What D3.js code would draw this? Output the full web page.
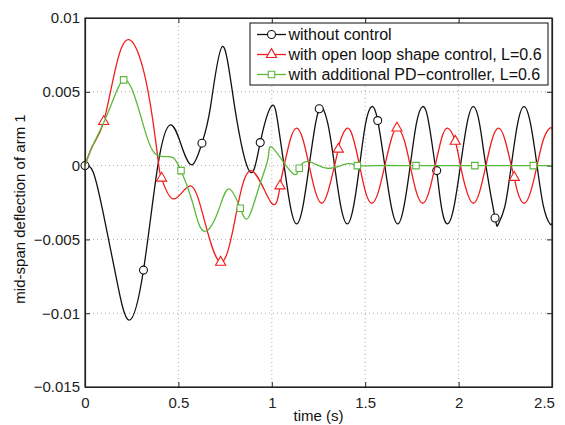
<!DOCTYPE html>
<html>
<head>
<meta charset="utf-8">
<script src="https://cdn.jsdelivr.net/npm/d3@7"></script>
<style>
  body { margin: 0; background: #fff; }
  svg { font-family: "Liberation Sans", Arial, Helvetica, sans-serif; }
</style>
</head>
<body>
<svg id="chart" width="565" height="425"></svg>
<script>
// values, deflection in metres
const tBlack = [0, 0.043, 0.096, 0.168, 0.236, 0.313, 0.39, 0.457, 0.515, 0.573, 0.626, 0.672, 0.735, 0.801, 0.882, 0.938, 0.999,
  1.033, 1.066, 1.1, 1.133, 1.166, 1.2, 1.234, 1.254, 1.267, 1.3, 1.336, 1.37, 1.404, 1.437, 1.47, 1.502, 1.535, 1.567,
  1.605, 1.64, 1.674, 1.707, 1.741, 1.774, 1.808, 1.841, 1.875, 1.883, 1.908, 1.941, 1.975, 2.01, 2.045, 2.079, 2.112,
  2.146, 2.195, 2.213, 2.247, 2.282, 2.316, 2.35, 2.385, 2.42, 2.455, 2.489, 2.5]
const vBlack = [0, -0.00041, -0.00312, -0.00764, -0.01047, -0.00708, 0, 0.00276, 0.0014, 0.00005, 0.00152, 0.004, 0.00807, 0.004, -0.00041, 0.00156, 0.00405,
  0.00285, 0, -0.0028, -0.00395, -0.0028, 0, 0.00285, 0.00385, 0.004, 0.00285, 0, -0.0028, -0.00395, -0.0028, 0, 0.00285, 0.004, 0.00305,
  0, -0.0028, -0.00395, -0.0028, 0, 0.00285, 0.004, 0.00285, 0, -0.00034, -0.0028, -0.00395, -0.0028, 0, 0.00285, 0.004, 0.00285,
  0, -0.00355, -0.00395, -0.0028, 0, 0.00285, 0.004, 0.00285, 0, -0.0028, -0.00395, -0.0039]

const tRed = [0, 0.043, 0.1, 0.168, 0.236, 0.31, 0.364, 0.395, 0.41, 0.475, 0.566, 0.641, 0.726, 0.801, 0.887, 0.999,
  1.044, 1.066, 1.1, 1.133, 1.166, 1.2, 1.234, 1.267, 1.3, 1.336, 1.356, 1.37, 1.404, 1.437, 1.47, 1.502, 1.535, 1.57,
  1.605, 1.64, 1.67, 1.707, 1.741, 1.774, 1.808, 1.841, 1.875, 1.908, 1.941, 1.982, 2.01, 2.045, 2.079, 2.112,
  2.146, 2.18, 2.213, 2.247, 2.282, 2.298, 2.316, 2.35, 2.385, 2.42, 2.455, 2.489, 2.5]
const vRed = [0, 0.0014, 0.00298, 0.00683, 0.00853, 0.0066, 0.00298, 0, -0.00085, -0.00226, -0.00138, -0.0038, -0.00655, -0.0038, -0.00034, -0.00255,
  -0.00138, 0, 0.0018, 0.00254, 0.0018, 0, -0.0018, -0.00255, -0.0018, 0, 0.00111, 0.0018, 0.00254, 0.0018, 0, -0.0018, -0.00255, -0.0018,
  0, 0.0018, 0.00254, 0.0018, 0, -0.0018, -0.00255, -0.0018, 0, 0.0018, 0.00254, 0.00165, 0, -0.0018, -0.00255, -0.0018,
  0, 0.0018, 0.00254, 0.0018, 0, -0.0008, -0.0018, -0.00255, -0.0018, 0, 0.0018, 0.00254, 0.0025]

const tGreen = [0, 0.043, 0.1, 0.168, 0.207, 0.257, 0.328, 0.373, 0.423, 0.471, 0.514, 0.569, 0.605, 0.649, 0.712, 0.769, 0.831, 0.876,
  0.935, 0.98, 1.005, 1.107, 1.147, 1.2, 1.297, 1.4, 1.458, 1.55, 1.772, 2.087, 2.4, 2.5]
const vGreen = [0, 0.0014, 0.0029, 0.005, 0.00581, 0.005, 0.00208, 0.00084, 0.00061, 0.00054, -0.00034, -0.00221, -0.0038, -0.00443, -0.00312, -0.00158, -0.00289, -0.0035,
  -0.00131, 0.0005, 0.0012, -0.00047, -0.00018, 0.00027, -0.00018, 0.00012, 0, 0, 0, 0, 0, 0]

// sample times where markers are drawn
const circleT = [0, 0.313, 0.626, 0.938, 1.254, 1.567, 1.883, 2.195]
const triangleT = [0.1, 0.41, 0.726, 1.044, 1.356, 1.67, 1.982, 2.298]
const squareT = [0.207, 0.514, 0.831, 1.147, 1.458, 1.772, 2.087, 2.4]

const xTicks = [0, 0.5, 1, 1.5, 2, 2.5]
const yTicks = [-0.015, -0.01, -0.005, 0, 0.005, 0.01]
const legendLabels = ['without control', 'with open loop shape control, L=0.6', 'with additional PD\u2212controller, L=0.6']

const svg = d3.select('#chart')
const W = 565, H = 425
const m = { top: 18, right: 13, bottom: 38, left: 85 }
const iw = W - m.left - m.right, ih = H - m.top - m.bottom

const x = d3.scaleLinear().domain([0, 2.5]).range([0, iw])
const y = d3.scaleLinear().domain([-0.015, 0.01]).range([ih, 0])

const g = svg.append('g').attr('transform', 'translate(' + m.left + ',' + m.top + ')')

// grid
g.append('g').selectAll('line').data(xTicks.slice(1, -1)).enter().append('line')
  .attr('x1', d => x(d)).attr('x2', d => x(d)).attr('y1', 0).attr('y2', ih)
  .attr('stroke', '#999').attr('stroke-width', 0.8).attr('stroke-dasharray', '1,3')
g.append('g').selectAll('line').data(yTicks.slice(1, -1)).enter().append('line')
  .attr('y1', d => y(d)).attr('y2', d => y(d)).attr('x1', 0).attr('x2', iw)
  .attr('stroke', '#999').attr('stroke-width', 0.8).attr('stroke-dasharray', '1,3')

const fmt = d => d === 0 ? '0' : d3.format('')(d).replace('-', '\u2212')

const styleAxis = sel => {
  sel.selectAll('path').attr('stroke', '#222').attr('stroke-width', 1.2)
  sel.selectAll('line').attr('stroke', '#222')
  sel.selectAll('text').style('font-size', '15px').attr('fill', '#222')
}

const xAxis = g.append('g').attr('transform', 'translate(0,' + ih + ')')
  .call(d3.axisBottom(x).tickValues(xTicks).tickFormat(fmt).tickSizeInner(-5).tickSizeOuter(0).tickPadding(10))
  .call(styleAxis)
xAxis.selectAll('text').filter(d => d === 2.5).attr('dx', -8)
g.append('g').call(d3.axisTop(x).tickValues(xTicks).tickFormat('').tickSizeInner(-5).tickSizeOuter(0)).call(styleAxis)
g.append('g')
  .call(d3.axisLeft(y).tickValues(yTicks).tickFormat(fmt).tickSizeInner(-5).tickSizeOuter(0).tickPadding(5))
  .call(styleAxis)
g.append('g').attr('transform', 'translate(' + iw + ',0)')
  .call(d3.axisRight(y).tickValues(yTicks).tickFormat('').tickSizeInner(-5).tickSizeOuter(0)).call(styleAxis)

const line = d3.line().x(d => x(d[0])).y(d => y(d[1])).curve(d3.curveNatural)
const zip = (t, v) => t.map((d, i) => [d, v[i]])

const series = [
  { pts: zip(tBlack, vBlack), marks: circleT, color: '#111', sym: d3.symbolCircle, size: 50 },
  { pts: zip(tRed, vRed), marks: triangleT, color: '#f01e1e', sym: d3.symbolTriangle, size: 45 },
  { pts: zip(tGreen, vGreen), marks: squareT, color: '#5cb83c', sym: d3.symbolSquare, size: 42 }
]

const plot = g.append('g')
series.forEach(s => {
  plot.append('path').datum(s.pts).attr('d', line)
    .attr('fill', 'none').attr('stroke', s.color).attr('stroke-width', 1.3)
  const mk = s.pts.filter(p => s.marks.includes(p[0]))
  plot.selectAll(null).data(mk).enter().append('path')
    .attr('d', d3.symbol().type(s.sym).size(s.size))
    .attr('transform', d => 'translate(' + x(d[0]) + ',' + y(d[1]) + ')')
    .attr('fill', '#fff').attr('stroke', s.color).attr('stroke-width', 1.1)
})

g.append('rect').attr('width', iw).attr('height', ih).attr('fill', 'none').attr('stroke', '#222').attr('stroke-width', 1.2)

// legend
const lg = svg.append('g').attr('transform', 'translate(250,23)')
lg.append('rect').attr('width', 298).attr('height', 62).attr('fill', '#fff').attr('stroke', '#222').attr('stroke-width', 1.1)
series.forEach((s, i) => {
  const yy = 11.5 + i * 20
  lg.append('line').attr('x1', 7).attr('x2', 36).attr('y1', yy).attr('y2', yy).attr('stroke', s.color).attr('stroke-width', 1.3)
  lg.append('path').attr('d', d3.symbol().type(s.sym).size(s.size))
    .attr('transform', 'translate(21.5,' + yy + ')')
    .attr('fill', '#fff').attr('stroke', s.color).attr('stroke-width', 1.1)
  lg.append('text').attr('x', 38.5).attr('y', yy + 5.5).style('font-size', '16px').attr('fill', '#111').text(legendLabels[i])
})

svg.append('text').attr('x', m.left + iw / 2).attr('y', 421).attr('text-anchor', 'middle')
  .style('font-size', '15px').attr('fill', '#111').text('time (s)')
svg.append('text').attr('transform', 'translate(25,209) rotate(-90)').attr('text-anchor', 'middle')
  .style('font-size', '15px').attr('fill', '#111').text('mid-span deflection of arm 1')
</script>
</body>
</html>
